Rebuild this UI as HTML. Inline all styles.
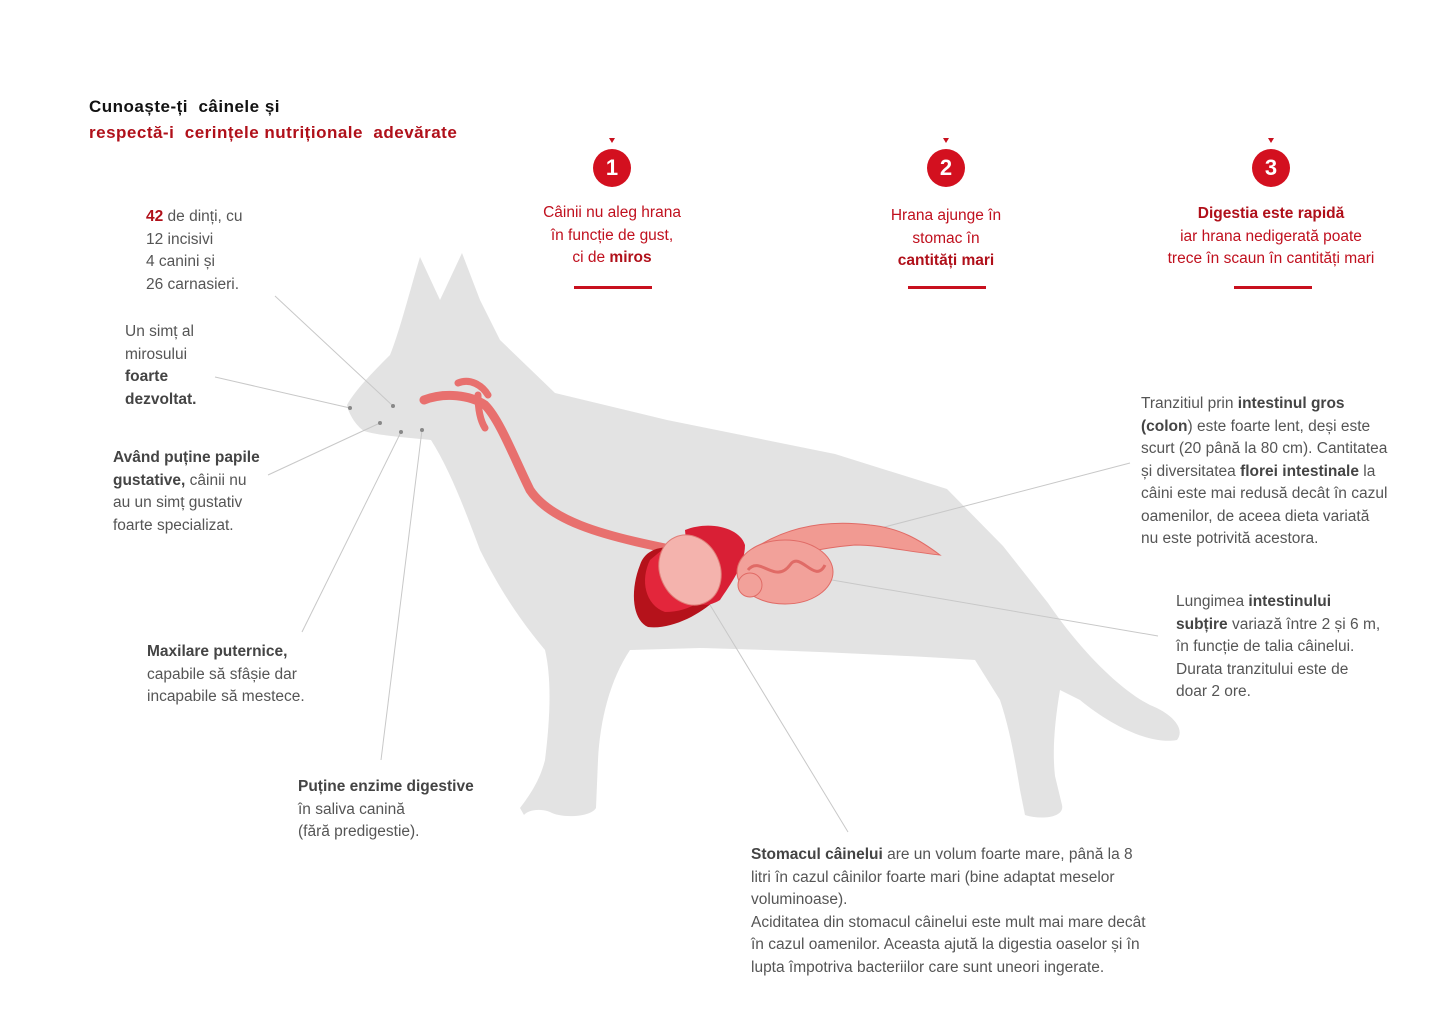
<!DOCTYPE html>
<html><head><meta charset="utf-8"><style>
body{margin:0;width:1440px;height:1018px;background:#fff;position:relative;overflow:hidden;font-family:"Liberation Sans",sans-serif;}
.t{position:absolute;font-size:15.5px;line-height:22.5px;color:#555;letter-spacing:0px;white-space:nowrap}
.t b{color:#444}
.r{color:#c0101e}
.c{text-align:center}
.h{position:absolute;font-weight:bold;font-size:17px;letter-spacing:0.5px;white-space:nowrap}
.num{position:absolute;width:38px;height:38px;border-radius:50%;background:#d3101f;color:#fff;font-weight:bold;font-size:22px;line-height:38px;text-align:center}
.bar{position:absolute;height:3px;width:78px;background:#c8101e}
.tri{position:absolute;width:0;height:0;border-left:3px solid transparent;border-right:3px solid transparent;border-top:5px solid #c8101e}
</style></head><body>
<svg width="1440" height="1018" style="position:absolute;left:0;top:0">
<path fill="#e3e3e3" d="M420,257 L440,300 L462,253 L480,300 L500,340 L555,393 L667,420 L835,454 L947,489 L1003,546 L1048,603 C1080,650 1120,690 1150,705 C1175,715 1185,730 1177,740 C1150,745 1110,725 1080,700 L1060,690 C1055,720 1052,750 1055,776 L1062,805 C1065,818 1040,820 1025,815 L1020,790 C1015,760 1010,730 1000,700 L975,660 C900,655 780,650 700,648 L630,650 C610,680 600,720 598,760 L596,808 C590,818 560,818 550,812 C540,808 528,810 524,815 L520,808 C530,795 540,780 545,760 C550,720 552,680 545,650 C520,620 500,590 480,550 C465,510 450,470 431,440 C410,438 380,436 364,431 C355,425 348,412 347,405 C355,390 375,370 390,355 C400,330 410,290 420,257 Z"/>
<g stroke="#c8c8c8" stroke-width="1" fill="none">
<line x1="275" y1="296" x2="393" y2="406"/>
<line x1="215" y1="377" x2="350" y2="408"/>
<line x1="268" y1="475" x2="380" y2="423"/>
<line x1="302" y1="632" x2="401" y2="432"/>
<line x1="381" y1="760" x2="422" y2="430"/>
<line x1="1130" y1="463" x2="873" y2="530"/>
<line x1="1158" y1="636" x2="832" y2="580"/>
<line x1="848" y1="832" x2="690" y2="572"/>
</g>
<g fill="#888"><circle cx="393" cy="406" r="2"/><circle cx="350" cy="408" r="2"/><circle cx="380" cy="423" r="2"/><circle cx="401" cy="432" r="2"/><circle cx="422" cy="430" r="2"/></g>
<path d="M424,400 C445,392 470,395 485,405 C500,420 515,460 530,490 C550,520 600,535 665,548" stroke="#e8706e" stroke-width="9" fill="none" stroke-linecap="round"/>
<path d="M458,383 C470,378 482,385 488,395 M478,395 C478,410 480,420 485,428" stroke="#e8706e" stroke-width="7" fill="none" stroke-linecap="round"/>
<path d="M755,548 C790,525 830,520 870,525 C900,528 920,540 940,555 C910,552 880,545 855,545 C820,548 790,555 765,565 Z" fill="#f19a92" stroke="#e06b66"/>
<path d="M640,565 C630,590 632,620 648,627 C670,630 700,615 715,600 C720,580 705,555 680,548 C660,545 645,550 640,565 Z" fill="#b5121b"/>
<path d="M650,560 C640,580 645,605 665,612 C690,612 712,598 718,578 C715,555 690,545 668,545 Z" fill="#e3263b"/>
<path d="M685,530 C710,520 740,528 745,545 C745,565 730,585 720,600 C700,612 690,600 690,585 Z" fill="#d91f35"/>
<ellipse cx="690" cy="570" rx="30" ry="36" fill="#f4b3ad" stroke="#e07e78" transform="rotate(-25 690 570)"/>
<ellipse cx="785" cy="572" rx="48" ry="32" fill="#f2a19a" stroke="#e06b66"/>
<path d="M748,570 C760,555 775,585 790,565 C800,550 815,585 825,565" stroke="#e06b66" stroke-width="3" fill="none"/>
<circle cx="750" cy="585" r="12" fill="#f2a19a" stroke="#e06b66"/>
</svg>

<div class="h" style="left:89px;top:97px;color:#111">Cunoaște-ți&nbsp; câinele și</div>
<div class="h r" style="left:89px;top:123px;color:#b0101a">respectă-i&nbsp; cerințele nutriționale&nbsp; adevărate</div>

<div class="tri" style="left:609px;top:138px"></div><div class="num" style="left:593px;top:149px">1</div>
<div class="tri" style="left:943px;top:138px"></div><div class="num" style="left:927px;top:149px">2</div>
<div class="tri" style="left:1268px;top:138px"></div><div class="num" style="left:1252px;top:149px">3</div>

<div class="t r c" style="left:512px;top:202px;width:200px;color:#c0101e">Câinii nu aleg hrana<br>în funcție de gust,<br>ci de <b style="color:#b0101a">miros</b></div>
<div class="bar" style="left:574px;top:286px"></div>
<div class="t r c" style="left:846px;top:205px;width:200px;color:#c0101e">Hrana ajunge în<br>stomac în<br><b style="color:#b0101a">cantități mari</b></div>
<div class="bar" style="left:908px;top:286px"></div>
<div class="t r c" style="left:1136px;top:203px;width:270px;color:#c0101e"><b style="color:#b0101a">Digestia este rapidă</b><br>iar hrana nedigerată poate<br>trece în scaun în cantități mari</div>
<div class="bar" style="left:1234px;top:286px"></div>

<div class="t" style="left:146px;top:206px"><b class="r" style="color:#b0101a">42</b> de dinți, cu<br>12 incisivi<br>4 canini și<br>26 carnasieri.</div>
<div class="t" style="left:125px;top:321px">Un simț al<br>mirosului<br><b>foarte</b><br><b>dezvoltat.</b></div>
<div class="t" style="left:113px;top:447px"><b>Având puține papile</b><br><b>gustative,</b> câinii nu<br>au un simț gustativ<br>foarte specializat.</div>
<div class="t" style="left:147px;top:641px"><b>Maxilare puternice,</b><br>capabile să sfâșie dar<br>incapabile să mestece.</div>
<div class="t" style="left:298px;top:776px"><b>Puține enzime digestive</b><br>în saliva canină<br>(fără predigestie).</div>
<div class="t" style="left:1141px;top:393px">Tranzitiul prin <b>intestinul gros</b><br><b>(colon</b>) este foarte lent, deși este<br>scurt (20 până la 80 cm). Cantitatea<br>și diversitatea <b>florei intestinale</b> la<br>câini este mai redusă decât în cazul<br>oamenilor, de aceea dieta variată<br>nu este potrivită acestora.</div>
<div class="t" style="left:1176px;top:591px">Lungimea <b>intestinului</b><br><b>subțire</b> variază între 2 și 6 m,<br>în funcție de talia câinelui.<br>Durata tranzitului este de<br>doar 2 ore.</div>
<div class="t" style="left:751px;top:844px"><b>Stomacul câinelui</b> are un volum foarte mare, până la 8<br>litri în cazul câinilor foarte mari (bine adaptat meselor<br>voluminoase).<br>Aciditatea din stomacul câinelui este mult mai mare decât<br>în cazul oamenilor. Aceasta ajută la digestia oaselor și în<br>lupta împotriva bacteriilor care sunt uneori ingerate.</div>
</body></html>
